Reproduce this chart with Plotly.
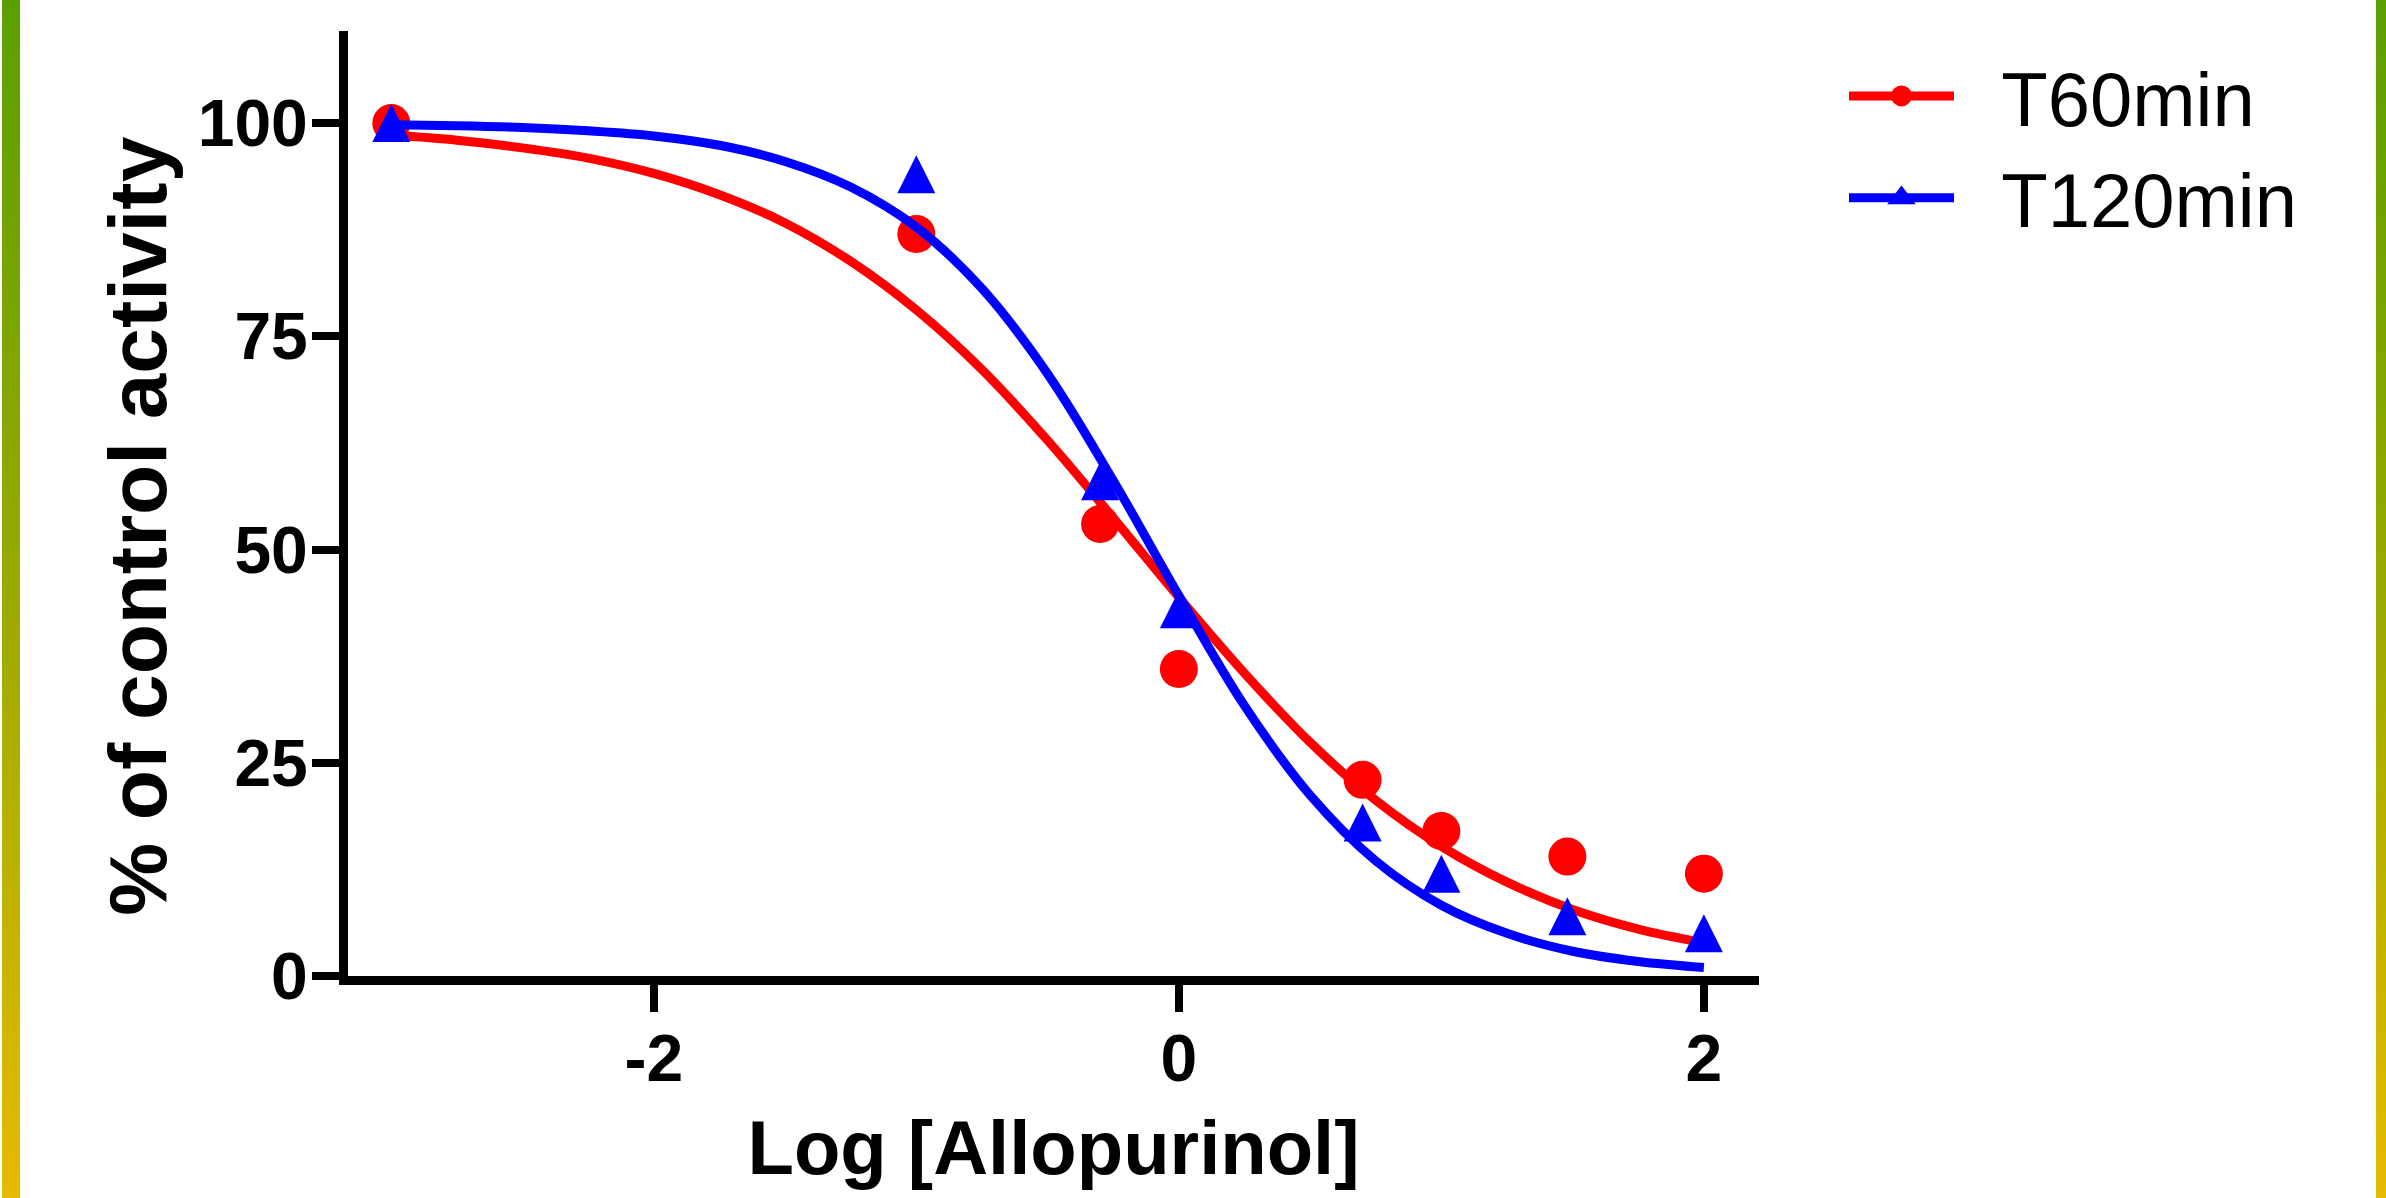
import base64
import plotly.graph_objects as go

# Measured points (log concentration vs % of control activity)
log_conc = [-3, -1, -0.3, 0, 0.7, 1, 1.48, 2]
t60_values = [100, 87, 53, 36, 23, 17, 14, 12]
t120_values = [100, 94, 58, 43, 18, 12, 7, 5]

# Fitted curves
curve_x = [-3, -2.75, -2.5, -2.25, -2, -1.75, -1.5, -1.25, -1, -0.75, -0.5,
           -0.25, 0, 0.25, 0.5, 0.75, 1, 1.25, 1.5, 1.75, 2]
t60_curve = [98.6, 98.0, 97.1, 95.9, 94.1, 91.6, 88.3, 83.8, 78.1, 71.1, 62.8,
             53.7, 44.4, 35.5, 27.4, 20.6, 15.2, 11.0, 7.8, 5.5, 3.9]
t120_curve = [99.8, 99.7, 99.5, 99.1, 98.5, 97.4, 95.5, 92.5, 87.8, 80.6, 70.6,
              58.1, 44.6, 31.7, 21.2, 13.5, 8.3, 5.0, 2.9, 1.7, 1.0]

x_ticks = [-2, 0, 2]
x_tick_labels = ["-2", "0", "2"]
y_ticks = [0, 25, 50, 75, 100]
y_tick_labels = ["0", "25", "50", "75", "100"]

RED = "#ff0000"
BLUE = "#0000ff"
FONT = "Liberation Sans"

fig = go.Figure()

fig.add_trace(go.Scatter(x=curve_x, y=t60_curve, mode="lines", line=dict(color=RED, width=9, shape="spline"),
                         showlegend=False, hoverinfo="skip"))
fig.add_trace(go.Scatter(x=log_conc, y=t60_values, mode="markers", marker=dict(color=RED, size=38, symbol="circle"),
                         showlegend=False))
fig.add_trace(go.Scatter(x=curve_x, y=t120_curve, mode="lines", line=dict(color=BLUE, width=9, shape="spline"),
                         showlegend=False, hoverinfo="skip"))
# arrow-down turned over and pushed back by its radius = an upright triangle centred on the point
fig.add_trace(go.Scatter(x=log_conc, y=t120_values, mode="markers",
                         marker=dict(color=BLUE, size=38, symbol="arrow-down", angle=180, standoff=19),
                         showlegend=False))

# legend entries (line + marker)
fig.add_trace(go.Scatter(x=[None], y=[None], mode="lines+markers", name="\u00a0\u00a0T60min",
                         line=dict(color=RED, width=9),
                         marker=dict(color=RED, size=16, symbol="circle", line=dict(color=RED, width=5))))
fig.add_trace(go.Scatter(x=[None], y=[None], mode="lines+markers", name="\u00a0\u00a0T120min",
                         line=dict(color=BLUE, width=9),
                         marker=dict(color=BLUE, size=16, symbol="triangle-up", line=dict(color=BLUE, width=5))))

# green-to-yellow side stripes
svg = ('<svg xmlns="http://www.w3.org/2000/svg" width="10" height="100" preserveAspectRatio="none">'
       '<defs><linearGradient id="g" x1="0" y1="0" x2="0" y2="1">'
       '<stop offset="0" stop-color="#5a9f00"/><stop offset="0.5" stop-color="#9aaa00"/>'
       '<stop offset="1" stop-color="#e6bb00"/></linearGradient></defs>'
       '<rect width="10" height="100" fill="url(#g)"/></svg>')
src = "data:image/svg+xml;base64," + base64.b64encode(svg.encode()).decode()

W, H = 2386, 1198
L, R, T, B = 348, 627, 31, 222
pw, ph = W - L - R, H - T - B


def px(x):
    return (x - L) / pw


def py(y):
    return (H - B - y) / ph


images = []
for x0, x1 in [(2, 20), (2376, 2386)]:
    images.append(dict(source=src, xref="paper", yref="paper", x=px(x0), y=py(0),
                       sizex=(x1 - x0) / pw, sizey=H / ph, sizing="stretch",
                       xanchor="left", yanchor="top", layer="below"))

fig.update_layout(
    width=W, height=H,
    margin=dict(l=L, r=R, t=T, b=B),
    paper_bgcolor="white", plot_bgcolor="white",
    font=dict(family=FONT, color="black"),
    images=images,
    legend=dict(x=px(1844), y=py(40), xanchor="left", yanchor="top",
                font=dict(family=FONT, size=76, color="black"),
                itemwidth=105, bgcolor="rgba(0,0,0,0)"),
    xaxis=dict(range=[-3.165, 2.21], tickvals=x_ticks, ticktext=x_tick_labels,
               showline=True, linewidth=9, linecolor="black", mirror=False,
               ticks="outside", ticklen=27, tickwidth=8, tickcolor="black",
               showgrid=False, zeroline=False, ticklabelstandoff=-10,
               tickfont=dict(family=FONT, size=66, color="black", weight="bold"),
               title=dict(text="<b>Log [Allopurinol]</b>", font=dict(family=FONT, size=76), standoff=30)),
    yaxis=dict(range=[0, 110.8], tickvals=y_ticks, ticktext=y_tick_labels,
               showline=True, linewidth=9, linecolor="black",
               ticks="outside", ticklen=27, tickwidth=8, tickcolor="black",
               showgrid=False, zeroline=False, ticklabelstandoff=-9,
               tickfont=dict(family=FONT, size=66, color="black", weight="bold"),
               title=dict(text="<b>% of control activity\u00a0\u00a0</b>", font=dict(family=FONT, size=82),
                          standoff=7)),
)

# drop the browser's default 8px page margin so the figure fills the window exactly
fig.write_html("out.html", config={"displayModeBar": False},
               post_script="document.body.style.margin='0px';")
